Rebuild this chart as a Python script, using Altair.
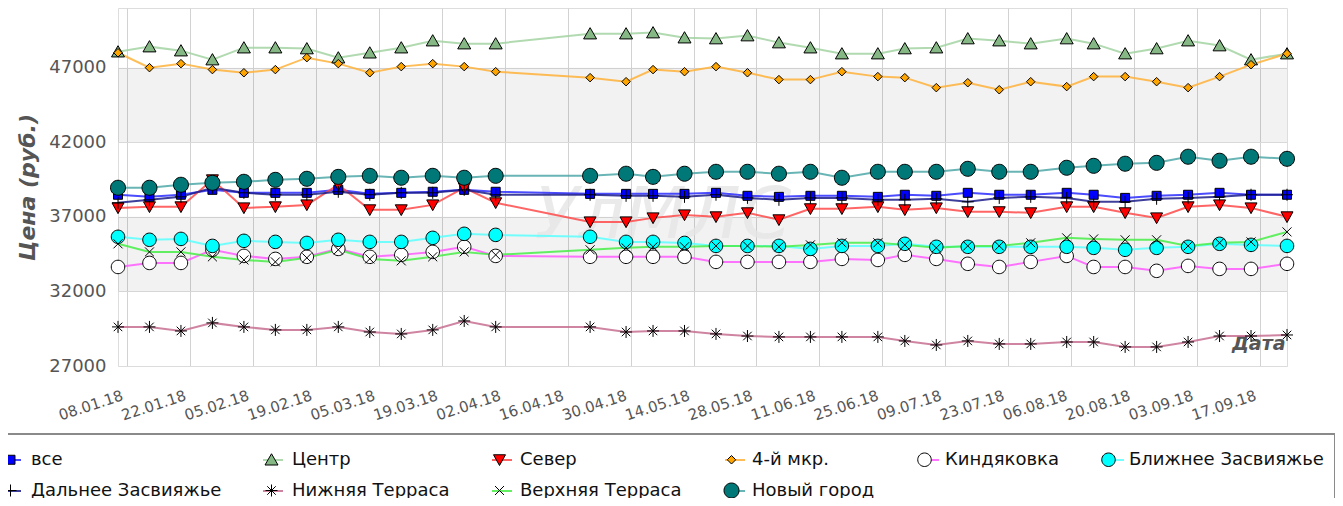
import altair as alt
import pandas as pd

# ---------------- data ----------------
DATES = ["2018-01-06", "2018-01-13", "2018-01-20", "2018-01-27", "2018-02-03", "2018-02-10",
         "2018-02-17", "2018-02-24", "2018-03-03", "2018-03-10", "2018-03-17", "2018-03-24",
         "2018-03-31", "2018-04-21", "2018-04-29", "2018-05-05", "2018-05-12", "2018-05-19",
         "2018-05-26", "2018-06-02", "2018-06-09", "2018-06-16", "2018-06-24", "2018-06-30",
         "2018-07-07", "2018-07-14", "2018-07-21", "2018-07-28", "2018-08-05", "2018-08-11",
         "2018-08-18", "2018-08-25", "2018-09-01", "2018-09-08", "2018-09-15", "2018-09-23"]

SERIES = ["все", "Центр", "Север", "4-й мкр.", "Киндяковка", "Ближнее Засвияжье",
          "Дальнее Засвияжье", "Нижняя Терраса", "Верхняя Терраса", "Новый город"]

VSE = [38480, 38340, 38480, 38810, 38610, 38610, 38610, 38810, 38540, 38610, 38680, 38810,
       38680, 38540, 38540, 38540, 38540, 38610, 38410, 38340, 38410, 38410, 38340, 38480,
       38410, 38610, 38480, 38480, 38610, 38480, 38270, 38410, 38480, 38610, 38480, 38480]
CENTR = [48070, 48410, 48140, 47540, 48340, 48340, 48280, 47670, 48000, 48340, 48810, 48610,
         48610, 49280, 49280, 49350, 49010, 48950, 49150, 48680, 48340, 47940, 47940, 48280,
         48340, 48950, 48810, 48610, 48950, 48610, 47940, 48280, 48810, 48480, 47540, 47940]
SEVER = [37600, 37670, 37670, 39480, 37600, 37670, 37800, 39150, 37470, 37470, 37800, 38950,
         37940, 36660, 36660, 36930, 37130, 37000, 37270, 36800, 37540, 37540, 37670, 37470,
         37600, 37340, 37340, 37270, 37670, 37670, 37270, 36930, 37670, 37800, 37600, 37000]
MKR4 = [48000, 47000, 47270, 46870, 46660, 46870, 47670, 47270, 46660, 47070, 47270, 47070,
        46730, 46330, 46060, 46870, 46730, 47070, 46660, 46200, 46200, 46730, 46400, 46330,
        45660, 45990, 45520, 46060, 45730, 46400, 46400, 46060, 45660, 46400, 47200, 47940]
KIND = [33640, 33910, 33910, 34790, 34380, 34180, 34320, 34850, 34320, 34450, 34650, 34990,
        34380, 34320, 34320, 34320, 34320, 33980, 33980, 33980, 33980, 34180, 34110, 34450,
        34180, 33850, 33640, 33980, 34380, 33640, 33640, 33380, 33710, 33510, 33510, 33850]
BLIZH = [35660, 35460, 35520, 35050, 35390, 35320, 35250, 35460, 35320, 35320, 35590, 35860,
         35790, 35660, 35320, 35320, 35250, 35050, 35050, 35050, 34850, 35050, 35050, 35190,
         34990, 34990, 34990, 34990, 34990, 34920, 34790, 34920, 34990, 35190, 35120, 35050]
DALN = [37940, 38140, 38340, 38950, 38610, 38480, 38480, 38680, 38480, 38610, 38610, 38810,
        38480, 38480, 38410, 38410, 38340, 38480, 38270, 38140, 38270, 38270, 38140, 38140,
        38210, 38010, 38270, 38340, 38270, 38010, 38010, 38210, 38270, 38340, 38480, 38480]
NIZH = [29620, 29620, 29350, 29890, 29620, 29420, 29420, 29620, 29280, 29150, 29420, 30020,
        29620, 29620, 29280, 29350, 29350, 29150, 29010, 28950, 28950, 28950, 28950, 28680,
        28410, 28680, 28480, 28480, 28610, 28610, 28280, 28280, 28610, 29010, 29010, 29080]
VERH = [35190, 34650, 34650, 34320, 34110, 33980, 34250, 34790, 34180, 34050, 34320, 34650,
        34450, 34790, 34920, 34990, 34990, 35050, 35050, 34990, 35120, 35260, 35260, 35120,
        34920, 35050, 35050, 35260, 35590, 35520, 35460, 35460, 35050, 35260, 35320, 35990]
NOVY = [38950, 38950, 39150, 39280, 39350, 39480, 39550, 39680, 39750, 39620, 39750, 39620,
        39750, 39750, 39890, 39680, 39890, 40020, 40020, 39890, 40020, 39620, 40020, 40020,
        40020, 40220, 40020, 40020, 40290, 40420, 40560, 40620, 41030, 40760, 41030, 40890]

VALUES = [VSE, CENTR, SEVER, MKR4, KIND, BLIZH, DALN, NIZH, VERH, NOVY]

TICK_DATES = ["2018-01-08", "2018-01-22", "2018-02-05", "2018-02-19", "2018-03-05",
              "2018-03-19", "2018-04-02", "2018-04-16", "2018-04-30", "2018-05-14",
              "2018-05-28", "2018-06-11", "2018-06-25", "2018-07-09", "2018-07-23",
              "2018-08-06", "2018-08-20", "2018-09-03", "2018-09-17"]
Y_TICKS = [27000, 32000, 37000, 42000, 47000]
BANDS_LO = [32000, 42000]
BANDS_HI = [37000, 47000]
X_START = "2018-01-06"
X_END = "2018-09-23"
Y_MIN, Y_MAX = 27000, 51000

# ---------------- styles ----------------
LINE_COLORS = ["#2b2bff", "#a3d3a3", "#ff4a4a", "#ffb13a", "#ff5cff", "#5cffff",
               "#1c1c8a", "#c76e90", "#48ee48", "#4fa8a8"]
FILLS = ["#0000ff", "#86b886", "#ff0000", "#ffa500", "#ffffff", "#00ffff",
         "transparent", "transparent", "transparent", "#007878"]


def fmt(v):
    return ("%.4f" % v).rstrip("0").rstrip(".")


def poly(pts, k):
    return "M" + "L".join(fmt(x / k) + "," + fmt(y / k) for x, y in pts) + "Z"


def circle(r, k):
    r = fmt(r / k)
    return f"M{r},0A{r},{r},0,1,1,-{r},0A{r},{r},0,1,1,{r},0Z"


def segs(lines, k):
    return "".join(f"M{fmt(a / k)},{fmt(b / k)}L{fmt(c / k)},{fmt(d / k)}" for a, b, c, d in lines)


def shape_paths(k, pad=""):
    # marker outlines in pixels; k = pixels per path unit
    return [p + pad for p in [
        poly([(-4.5, -4.5), (4.5, -4.5), (4.5, 4.5), (-4.5, 4.5)], k),
        poly([(0, -6), (6.5, 5.25), (-6.5, 5.25)], k),
        poly([(0, 5.75), (6, -5), (-6, -5)], k),
        poly([(0, -4.25), (4.25, 0), (0, 4.25), (-4.25, 0)], k),
        circle(6.75, k),
        circle(6.75, k),
        segs([(-6, 0, 6, 0), (0, -6, 0, 6)], k),
        segs([(-6, 0, 6, 0), (0, -6, 0, 6), (-4.25, -4.25, 4.25, 4.25), (-4.25, 4.25, 4.25, -4.25)], k),
        segs([(-4.5, -4.5, 4.5, 4.5), (-4.5, 4.5, 4.5, -4.5)], k),
        circle(7.5, k),
    ]]


PLOT_SIZE = 100      # path unit = 5 px
LEG_SIZE = 400       # path unit = 10 px, legend slot 20 px
SHAPES_PLOT = shape_paths(5)
# the move-only tail widens each legend glyph's bounds to the full slot, like the line glyph
SHAPES_LEG = shape_paths(10, pad="M-1.05,0M1.05,0")
LINE_GLYPH = "M-1,0L1,0"
HID_LINE = "\u200b"          # keeps the legends' domains distinct so they are not merged
HID_LEG = "\u200b\u200b"

FONT = "DejaVu Sans"
W, H = 1169, 358


def dt(s):
    y, m, d = (int(p) for p in s.split("-"))
    return alt.DateTime(year=y, month=m, date=d)


rows = []
for name, vals in zip(SERIES, VALUES):
    for d, v in zip(DATES, vals):
        rows.append({"date": d + "T00:00:00", "series": name,
                     "series_line": name + HID_LINE, "series_leg": name + HID_LEG, "value": v})
df = pd.DataFrame(rows)
bands = pd.DataFrame({"lo": BANDS_LO, "hi": BANDS_HI})

x_axis = alt.Axis(values=[dt(s) for s in TICK_DATES], format="%d.%m.%y",
                  labelAngle=342, labelAlign="right", labelBaseline="top",
                  labelPadding=22, labelOffset=-7, labelFontSize=15, labelColor="#555555",
                  labelFont=FONT, labelOverlap=False, labelFlush=False,
                  ticks=False, tickSize=0, domain=False,
                  grid=True, gridColor="#d2d2d2", gridWidth=1,
                  title="Дата", titleFont=FONT, titleFontSize=19, titleFontStyle="italic",
                  titleFontWeight="bold", titleColor="#555555", titleAnchor="end",
                  titleAlign="right", titleBaseline="alphabetic", titleX=W - 2, titleY=-17)
y_axis = alt.Axis(values=Y_TICKS, format="d", labelFontSize=18, labelColor="#555555",
                  labelFont=FONT, ticks=False, tickSize=0, domain=False, labelPadding=12,
                  grid=True, gridColor="#dcdcdc", gridWidth=1,
                  title="Цена (руб.)", titleFont=FONT, titleFontSize=22,
                  titleFontStyle="italic", titleFontWeight="bold", titleColor="#555555",
                  titlePadding=9)

x_enc = alt.X("date:T", scale=alt.Scale(domain=[dt(X_START), dt(X_END)], nice=False), axis=x_axis)
y_scale = alt.Scale(domain=[Y_MIN, Y_MAX], nice=False, zero=False)
y_enc = alt.Y("value:Q", scale=y_scale, axis=y_axis)

LEG_X, LEG_Y = -118, 441
common_leg = dict(orient="none", legendX=LEG_X, legendY=LEG_Y, direction="horizontal",
                  columns=6, title=None, symbolSize=LEG_SIZE,
                  labelFontSize=18, labelFont=FONT, labelLimit=500,
                  columnPadding=37, rowPadding=11, padding=0, gridAlign="each")
line_legend = alt.Legend(symbolType=LINE_GLYPH, symbolStrokeWidth=2, labelOffset=9,
                         labelOpacity=0, **common_leg)
shape_legend = alt.Legend(symbolStrokeWidth=1, labelOffset=10, labelColor="#111111",
                          **common_leg)

band_layer = alt.Chart(bands).mark_rect(color="black", opacity=0.05).encode(
    y=alt.Y("lo:Q", scale=y_scale, axis=y_axis), y2="hi:Q")

watermark = alt.Chart(alt.Data(values=[{}])).mark_text(
    text="УлМЛС", font=FONT, fontSize=72, fontStyle="italic", color="#e6e6e6",
    opacity=0.8, align="center", baseline="middle").encode(
    x=alt.value(545), y=alt.value(208))

line_scale = alt.Scale(domain=[s + HID_LINE for s in SERIES], range=LINE_COLORS)
lines = alt.Chart(df).mark_line(strokeWidth=2, opacity=0.85).encode(
    x=x_enc, y=y_enc,
    stroke=alt.Stroke("series_line:N", scale=line_scale, legend=None))

points = alt.Chart(df).mark_point(filled=True, size=PLOT_SIZE, stroke="black", strokeWidth=1,
                                  opacity=1).encode(
    x=x_enc, y=y_enc,
    shape=alt.Shape("series:N", scale=alt.Scale(domain=SERIES, range=SHAPES_PLOT), legend=None),
    fill=alt.Fill("series:N", scale=alt.Scale(domain=SERIES, range=FILLS), legend=None))

# legend-only layers (no rows survive the filter; each legend comes from its explicit domain)
legend_lines = alt.Chart(df).transform_filter("false").mark_point(
    shape=LINE_GLYPH, filled=False, strokeWidth=2, opacity=0.85).encode(
    x=x_enc, y=y_enc,
    stroke=alt.Stroke("series_line:N", scale=line_scale, legend=line_legend))

leg_domain = [s + HID_LEG for s in SERIES]
legend_shapes = alt.Chart(df).transform_filter("false").mark_point(
    filled=True, strokeWidth=1, opacity=1).encode(
    x=x_enc, y=y_enc,
    shape=alt.Shape("series_leg:N", scale=alt.Scale(domain=leg_domain, range=SHAPES_LEG),
                    legend=shape_legend),
    fill=alt.Fill("series_leg:N", scale=alt.Scale(domain=leg_domain, range=FILLS),
                  legend=shape_legend),
    stroke=alt.Stroke("series_leg:N", scale=alt.Scale(domain=leg_domain, range=["black"] * 10),
                      legend=shape_legend))

legend_box = alt.Chart(alt.Data(values=[{}])).mark_rect(
    fill="transparent", stroke="#8a8a8a", strokeWidth=2).encode(
    x=alt.value(-124), x2=alt.value(1217), y=alt.value(426), y2=alt.value(540))

chart = alt.layer(band_layer, watermark, lines, points, legend_lines, legend_shapes,
                  legend_box).resolve_scale(
    stroke="independent", fill="independent", shape="independent"
).resolve_legend(
    stroke="independent", fill="independent", shape="independent"
).properties(
    width=W, height=H,
    autosize=alt.AutoSizeParams(type="none"),
    padding={"left": 110, "top": 0, "right": 48, "bottom": 132},
).configure_view(stroke="#c8c8c8", strokeWidth=1).configure(font=FONT, background="white")

chart.save("out.html", embed_options={"renderer": "svg", "actions": False})
